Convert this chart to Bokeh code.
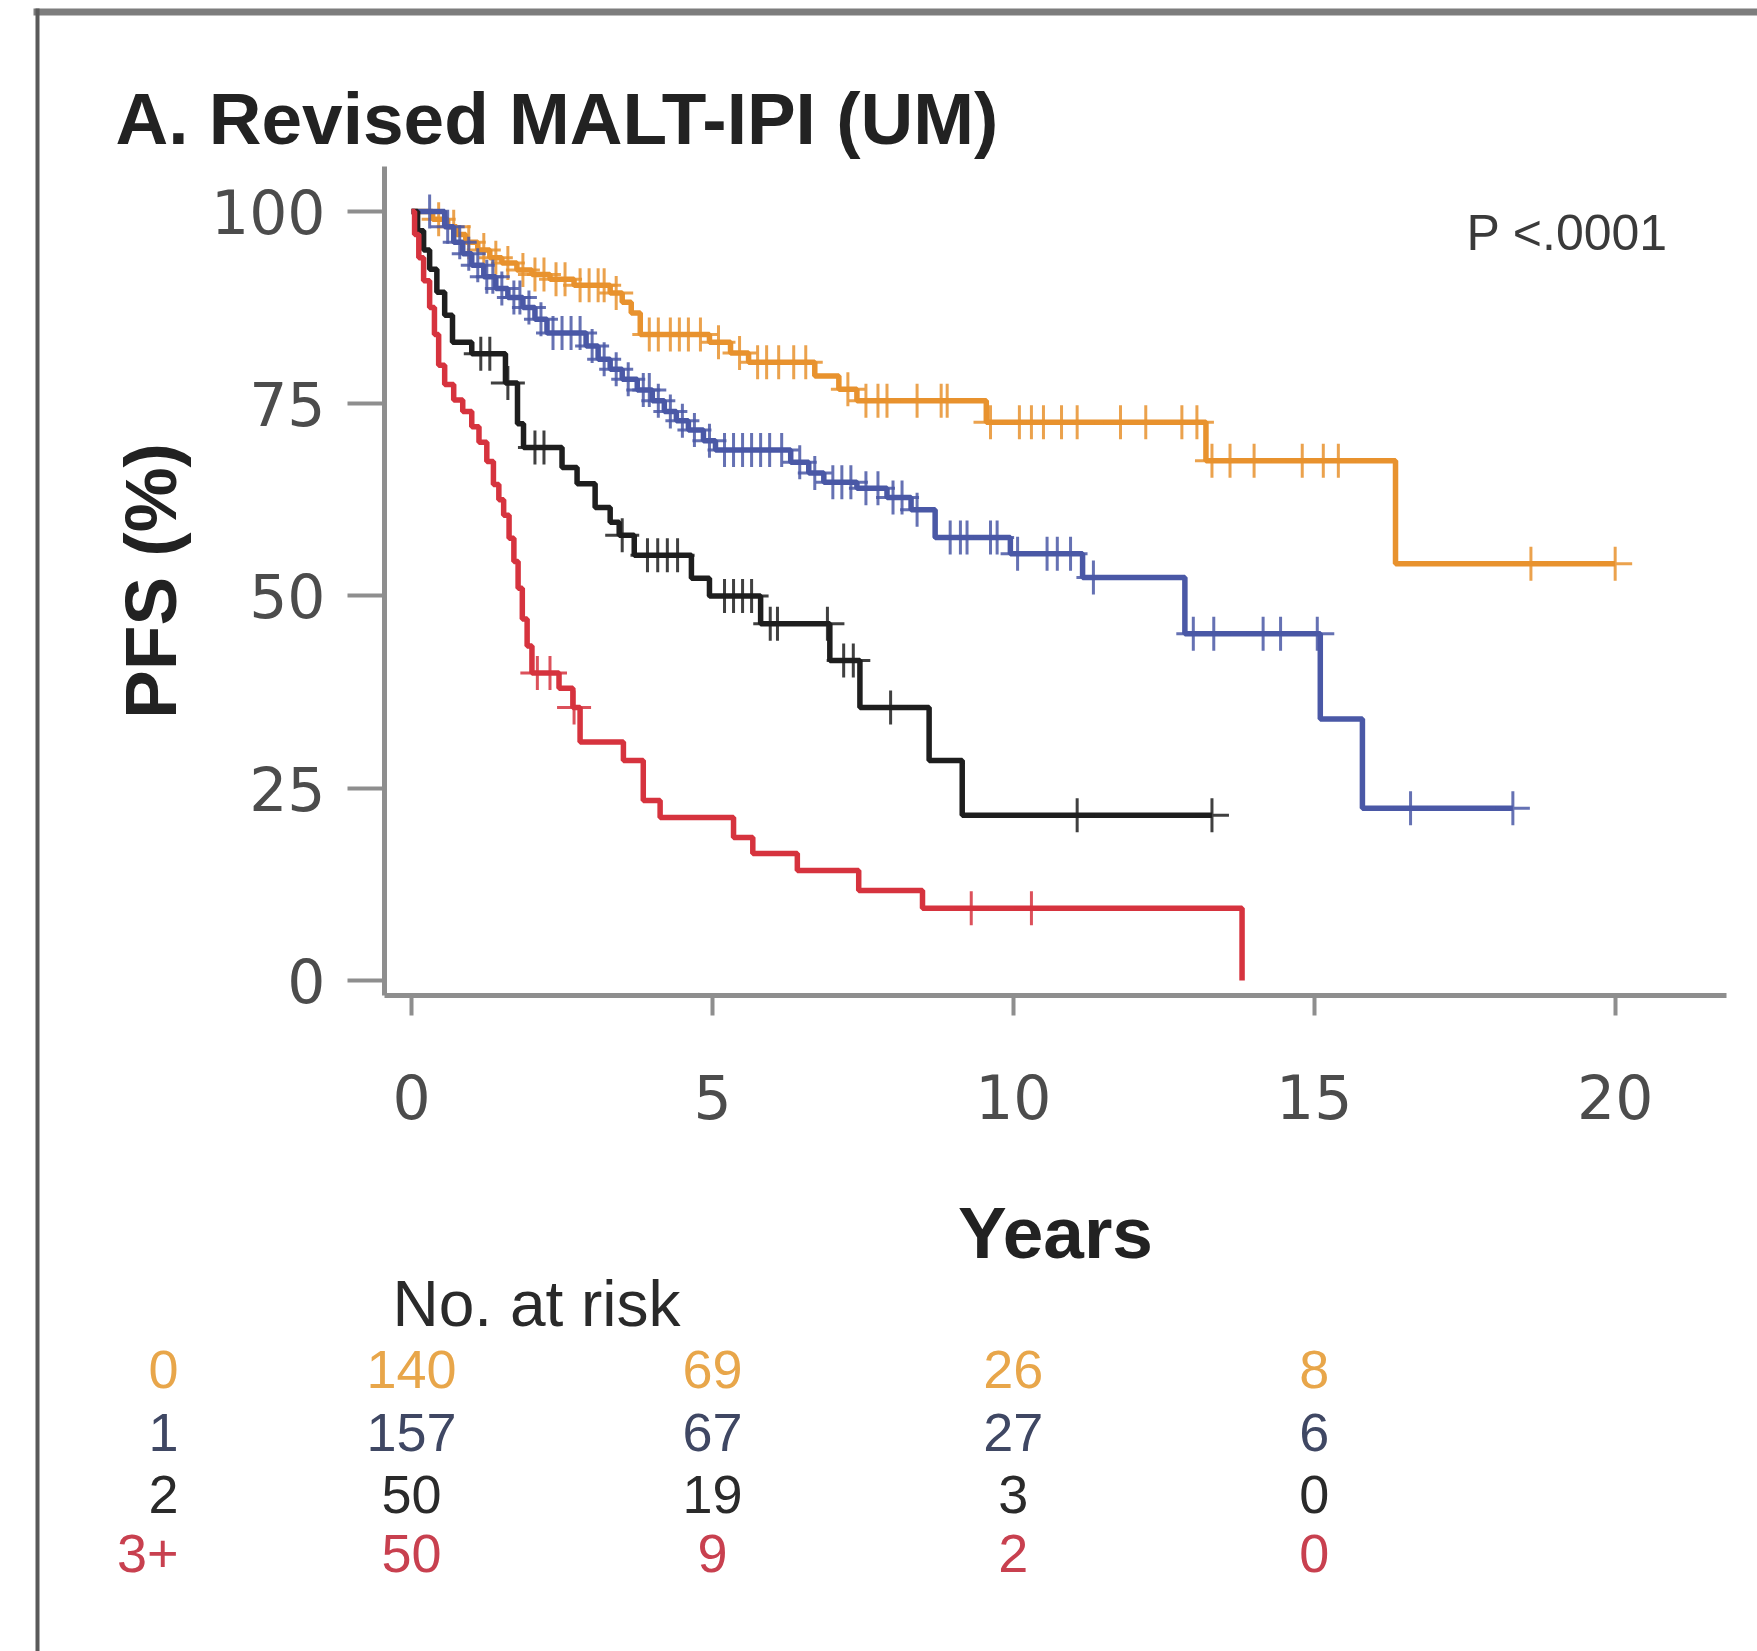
import numpy as np
from bokeh.plotting import figure
from bokeh.models import (Range1d, LinearAxis, FixedTicker, Label, LabelSet,
                          ColumnDataSource, BoxAnnotation)
from bokeh.core.properties import value
from bokeh.embed import file_html
from bokeh.resources import INLINE

# ---- Kaplan-Meier PFS (%) by revised MALT-IPI score -------------------------
group_names = ["0", "1", "2", "3+"]

score0_times = [0, 0.35, 0.6, 0.75, 0.9, 1.1, 1.3, 1.5, 1.75, 2.0, 2.3, 2.7, 3.3,
                3.5, 3.65, 3.8, 4.95, 5.3, 5.6, 6.7, 7.1, 7.4, 9.55, 13.2, 16.35]
score0_pfs = [100, 99, 98, 97, 96, 95, 94, 93.3, 92.4, 91.8, 91.2, 90.4, 89.4,
              88.2, 86.8, 84, 83, 81.6, 80.4, 78.6, 76.9, 75.4, 72.6, 67.6, 54.2]
score0_censored = [0.45, 0.7, 0.95, 1.2, 1.4, 1.6, 1.85, 2.05, 2.2, 2.4, 2.55, 2.8,
                   2.95, 3.1, 3.2, 3.4, 3.95, 4.1, 4.3, 4.45, 4.6, 4.8, 5.1, 5.45,
                   5.75, 5.9, 6.1, 6.35, 6.55, 7.25, 7.55, 7.75, 7.9, 8.4, 8.8, 8.9,
                   9.62, 10.1, 10.3, 10.5, 10.8, 11.06, 11.78, 12.2, 12.8, 13.05,
                   13.3, 13.6, 14.0, 14.8, 15.15, 15.4, 18.6, 20.0]
score0_last = 20.0

score1_times = [0, 0.55, 0.7, 0.85, 1.0, 1.2, 1.4, 1.6, 1.85, 2.05, 2.25, 2.9, 3.1,
                3.3, 3.5, 3.75, 4.0, 4.2, 4.4, 4.6, 4.85, 5.05, 6.3, 6.6, 6.85, 7.4,
                7.9, 8.3, 8.7, 9.95, 11.15, 12.85, 15.1, 15.8]
score1_pfs = [100, 98, 96, 94.5, 93, 91.5, 90, 88.8, 87.5, 86, 84.2, 82.5, 80.8,
              79.5, 78.2, 76.8, 75.4, 74, 72.8, 71.6, 70.2, 69, 67.4, 66, 64.8, 64,
              62.8, 61.2, 57.6, 55.5, 52.4, 45.1, 34.0, 22.4]
score1_censored = [0.3, 0.6, 0.8, 0.95, 1.1, 1.25, 1.35, 1.5, 1.7, 1.8, 1.95, 2.15,
                   2.35, 2.5, 2.65, 2.8, 3.0, 3.2, 3.4, 3.6, 3.85, 3.95, 4.1, 4.3,
                   4.5, 4.7, 4.95, 5.2, 5.35, 5.5, 5.65, 5.8, 5.95, 6.15, 6.45, 6.7,
                   7.0, 7.15, 7.3, 7.55, 7.75, 8.0, 8.15, 8.4, 8.95, 9.12, 9.23,
                   9.62, 9.73, 10.07, 10.56, 10.73, 10.95, 11.33, 12.99, 13.33,
                   14.15, 14.44, 15.05, 16.6, 18.3]
score1_last = 18.3

score2_times = [0, 0.1, 0.2, 0.3, 0.42, 0.55, 0.68, 1.0, 1.56, 1.76, 1.86, 2.5,
                2.75, 3.05, 3.3, 3.45, 3.7, 4.65, 4.95, 5.8, 6.95, 7.45, 8.6, 9.15]
score2_pfs = [100, 97.5, 95, 92.5, 89.5, 86.5, 83, 81.5, 77.7, 72.4, 69.3, 66.7,
              64.6, 61.5, 59.6, 57.9, 55.3, 52.3, 50.0, 46.4, 41.6, 35.5, 28.6, 21.5]
score2_censored = [1.15, 1.3, 1.6, 2.05, 2.2, 3.5, 3.92, 4.09, 4.25, 4.42, 5.2,
                   5.35, 5.5, 5.65, 5.96, 6.08, 6.91, 7.18, 7.34, 7.96, 11.06, 13.3]
score2_last = 13.3

score3_times = [0, 0.05, 0.12, 0.2, 0.3, 0.38, 0.45, 0.55, 0.7, 0.85, 1.0, 1.12,
                1.25, 1.36, 1.45, 1.53, 1.62, 1.7, 1.77, 1.84, 1.92, 2.0, 2.45,
                2.68, 2.8, 3.52, 3.85, 4.13, 5.35, 5.67, 6.41, 7.43, 8.49, 13.8]
score3_pfs = [100, 97, 94, 91, 87.5, 84, 80, 77.5, 75.5, 74, 72, 70, 67.5, 64.5,
              62.5, 60.5, 57.5, 54.5, 51, 47, 43.5, 40, 38, 35.5, 31, 28.6, 23.4,
              21.2, 18.6, 16.5, 14.3, 11.7, 9.4, 0]
score3_censored = [2.09, 2.3, 2.7, 9.3, 10.3]
score3_last = 13.8

# Numbers at risk
risk_years = [0, 5, 10, 15]
risk_score0 = [140, 69, 26, 8]
risk_score1 = [157, 67, 27, 6]
risk_score2 = [50, 19, 3, 0]
risk_score3 = [50, 9, 2, 0]

y_ticks = [0, 25, 50, 75, 100]
x_ticks = [0, 5, 10, 15, 20]

curve_colors = ["#E8922E", "#4A58A6", "#1E1E1E", "#D6333E"]
table_colors = ["#E8A64A", "#3F4763", "#2a2a2a", "#C8404F"]

# ---- canvas geometry (pixels) ------------------------------------------------
W, H = 1757, 1651
F_LEFT, F_RIGHT, F_TOP, F_BOTTOM = 384, 1726, 166, 995   # plotting area
X0, X1 = -0.45, 21.85                                      # its data extent
Y0, Y1 = -1.95, 105.85


def px_x(px):
    return X0 + (px - F_LEFT) * (X1 - X0) / (F_RIGHT - F_LEFT)


def px_y(py):
    return Y0 + (F_BOTTOM - py) * (Y1 - Y0) / (F_BOTTOM - F_TOP)


# The frame spans the whole canvas; axes sit at fixed data locations so that
# the title and the at-risk table can live in the same coordinate space.
p = figure(width=W, height=H,
           x_range=Range1d(px_x(0), px_x(W)), y_range=Range1d(px_y(H), px_y(0)),
           x_axis_type=None, y_axis_type=None, output_backend="svg",
           toolbar_location=None, min_border=0)
p.outline_line_color = None
p.background_fill_color = "white"
p.border_fill_color = "white"

AXIS_GREY = "#8e8e8e"

yaxis = LinearAxis(ticker=FixedTicker(ticks=y_ticks), axis_label="PFS (%)",
                   fixed_location=X0, bounds=(Y0, Y1))
xaxis = LinearAxis(ticker=FixedTicker(ticks=x_ticks), axis_label="Years",
                   fixed_location=Y0, bounds=(X0, X1))
for ax in (yaxis, xaxis):
    ax.axis_line_color = AXIS_GREY
    ax.axis_line_width = 5
    ax.major_tick_line_color = AXIS_GREY
    ax.major_tick_line_width = 4
    ax.major_tick_in = 0
    ax.minor_tick_line_color = None
    ax.major_label_text_font = "DejaVu Sans"
    ax.major_label_text_font_size = "60px"
    ax.major_label_text_color = "#4c4c4c"
    ax.axis_label_text_font = "Liberation Sans"
    ax.axis_label_text_font_size = "73px"
    ax.axis_label_text_font_style = "bold"
    ax.axis_label_text_color = "#222222"
yaxis.major_tick_out = 37
yaxis.major_label_standoff = 22
yaxis.axis_label_standoff = 17
xaxis.major_tick_out = 20
xaxis.major_label_standoff = 58
xaxis.axis_label_standoff = 70
p.add_layout(yaxis, "left")
p.add_layout(xaxis, "below")

# ---- survival curves ---------------------------------------------------------
curves = [
    (score0_times, score0_pfs, score0_censored, score0_last),
    (score1_times, score1_pfs, score1_censored, score1_last),
    (score2_times, score2_pfs, score2_censored, score2_last),
    (score3_times, score3_pfs, score3_censored, score3_last),
]
for (times, pfs, cens, last), color in zip(curves, curve_colors):
    t = np.array(times, dtype=float)
    s = np.array(pfs, dtype=float)
    if last > t[-1]:
        t = np.append(t, last)
        s = np.append(s, s[-1])
    p.step(t, s, mode="after", line_color=color, line_width=5.5)
    c = np.array(cens, dtype=float)
    idx = np.searchsorted(np.array(times, dtype=float), c, side="right") - 1
    cy = np.array(pfs, dtype=float)[idx]
    p.scatter(c, cy, marker="cross", size=34, line_color=color, line_width=3,
              line_alpha=0.85)

# ---- texts -------------------------------------------------------------------
p.add_layout(Label(x=px_x(115), y=px_y(118), text="A. Revised MALT-IPI (UM)",
                   text_font="Liberation Sans", text_font_style="bold",
                   text_font_size="73px", text_color="#222222",
                   text_baseline="alphabetic", text_align="left"))
p.add_layout(Label(x=px_x(1466), y=px_y(232), text="P <.0001",
                   text_font="Liberation Sans", text_font_size="50px",
                   text_color="#3a3a3a", text_baseline="middle",
                   text_align="left"))
p.add_layout(Label(x=px_x(392), y=px_y(1303), text="No. at risk",
                   text_font="Liberation Sans", text_font_size="64px",
                   text_color="#2a2a2a", text_baseline="middle",
                   text_align="left"))

row_pixels = [1369, 1432, 1494, 1553]
risk_rows = [risk_score0, risk_score1, risk_score2, risk_score3]
for name, counts, color, ypx in zip(group_names, risk_rows, table_colors, row_pixels):
    row_y = px_y(ypx)
    src = ColumnDataSource(dict(x=risk_years, y=[row_y] * len(risk_years),
                                text=[str(v) for v in counts]))
    p.add_layout(LabelSet(x="x", y="y", text="text", source=src,
                          text_font=value("Liberation Sans"),
                          text_font_size="54px", text_color=color,
                          text_align="center", text_baseline="middle"))
    p.add_layout(Label(x=px_x(178), y=row_y, text=name,
                       text_font="Liberation Sans", text_font_size="54px",
                       text_color=color, text_align="right",
                       text_baseline="middle"))

# ---- panel border ------------------------------------------------------------
p.add_layout(BoxAnnotation(left=px_x(33), right=px_x(W + 20), top=px_y(8),
                           bottom=px_y(15), fill_color="#7d7d7d", fill_alpha=1,
                           line_color=None))
p.add_layout(BoxAnnotation(left=px_x(35), right=px_x(39), top=px_y(8),
                           bottom=px_y(H + 20), fill_color="#5a5a5a",
                           fill_alpha=1, line_color=None))

open("out.html", "w").write(file_html(p, INLINE))
